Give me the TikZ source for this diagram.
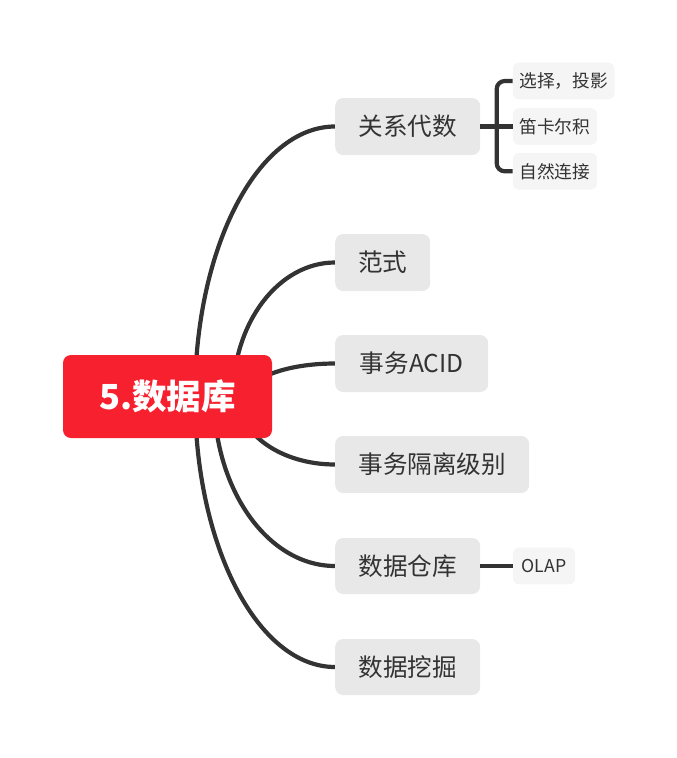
\documentclass[tikz,border=0pt]{standalone}
\usepackage{fontspec}
\setmainfont{Noto Sans CJK SC}
\pgfdeclarelayer{bg}
\pgfsetlayers{bg,main}
\definecolor{redc}{HTML}{F6202E}
\definecolor{topicc}{HTML}{E8E8E8}
\definecolor{subc}{HTML}{F5F5F5}
\definecolor{linec}{HTML}{333333}
\definecolor{textc}{HTML}{333333}
\begin{document}
\begin{tikzpicture}[x=1pt,y=-1pt,
 central/.style={fill=redc, rounded corners=8pt, text=white, font=\fontsize{34.5}{40}\selectfont\bfseries, inner sep=0pt, minimum width=209pt, minimum height=83pt},
 topic/.style={fill=topicc, rounded corners=8pt, text=textc, font=\fontsize{24.6}{28}\selectfont, minimum height=57pt, inner sep=0pt, anchor=west},
 sub/.style={fill=subc, rounded corners=6pt, text=textc, font=\fontsize{17.7}{20}\selectfont, minimum height=36.6pt, inner sep=0pt, anchor=west},
 conn/.style={draw=linec, line width=4.2pt},
]
\useasboundingbox (0,0) rectangle (677,758);

\node[central] (c) at (167.5,396.5) {5.数据库};

\node[topic, minimum width=145pt] (t1) at (335,126.5) {关系代数};
\node[topic, minimum width=95pt]  (t2) at (335,262.5) {范式};
\node[topic, minimum width=153pt] (t3) at (335,363.5) {事务ACID};
\node[topic, minimum width=194pt] (t4) at (335,464.5) {事务隔离级别};
\node[topic, minimum width=145pt, minimum height=56pt] (t5) at (335,566) {数据仓库};
\node[topic, minimum width=145pt, minimum height=56pt] (t6) at (335,667) {数据挖掘};

\node[sub, minimum width=101.6pt] (s1) at (512.7,81) {选择，投影};
\node[sub, minimum width=84pt]    (s2) at (512.7,126.5) {笛卡尔积};
\node[sub, minimum width=84pt]    (s3) at (512.7,171.3) {自然连接};
\node[sub, minimum width=62.3pt]  (s4) at (512.7,566) {OLAP};

\coordinate (o1) at (195,396.5);
\coordinate (o2) at (233,396.5);
\coordinate (o3) at (247,396.5);
\coordinate (o4) at (238,396.5);
\coordinate (o5) at (214,396.5);
\coordinate (o6) at (195,396.5);

\begin{pgfonlayer}{bg}
\draw[conn] (o1) .. controls (195,247.4) and (257.7,126.5) .. (t1.west);
\draw[conn] (o2) .. controls (233,322.5) and (278.7,262.5) .. (t2.west);
\draw[conn] (o3) .. controls (247,378.3) and (286.4,363.5) .. (t3.west);
\draw[conn] (o4) .. controls (238,434.1) and (281.4,464.5) .. (t4.west);
\draw[conn] (o5) .. controls (214,490.1) and (268.2,566) .. (t5.west);
\draw[conn] (o6) .. controls (195,545.9) and (257.7,667) .. (t6.west);
\end{pgfonlayer}

\draw[conn] (t1.east) -- (s2.west);
\draw[conn, rounded corners=8pt] (s1.west) -- ++(-16,0) |- (s3.west);
\draw[conn] (t5.east) -- (s4.west);
\end{tikzpicture}
\end{document}
